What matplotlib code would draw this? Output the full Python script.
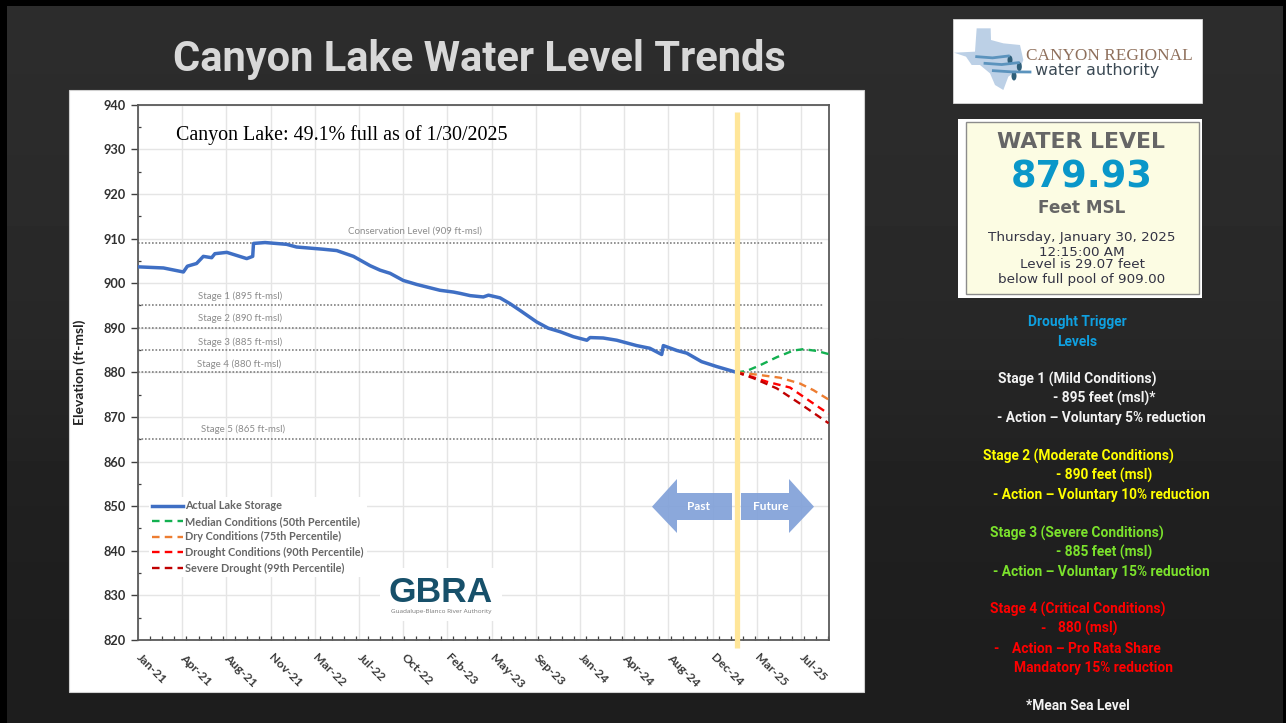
import numpy as np
import matplotlib
matplotlib.use("Agg")
import matplotlib.pyplot as plt
from matplotlib.patches import Rectangle, Polygon, Ellipse
from matplotlib import font_manager as fm

# ---------- data (x = days since 1 Jan 2021, y = ft-msl) ----------
tick_labels = ["Jan-21","Apr-21","Aug-21","Nov-21","Mar-22","Jul-22","Oct-22","Feb-23",
               "May-23","Sep-23","Jan-24","Apr-24","Aug-24","Dec-24","Mar-25","Jul-25"]
actual_day = [1,64,114,124,147,164,185,193,223,273,288,290,319,373,398,465,499,541,583,608,633,666,700,758,792,
              809,834,867,880,909,934,959,1001,1030,1060,1093,1127,1135,1168,1202,1252,1285,1315,1319,1353,1378,1415,1453,1499]
actual_level = [903.65,903.4,902.5,903.8,904.4,906,905.7,906.6,906.9,905.5,906,908.9,909.1,908.7,908.1,907.6,907.3,906,903.9,902.9,902.2,900.6,899.7,898.4,898,
                897.7,897.2,896.9,897.3,896.7,895.4,893.9,891.3,889.9,889.1,888,887.2,887.8,887.7,887.2,886,885.4,884,886,884.9,884.3,882.4,881.3,880.1]
median_day = [1503,1528,1562,1604,1646,1671,1704,1734]
median_level = [880,880.3,881.6,883.4,884.9,885.2,884.8,884.1]
dry_day = [1503,1553,1612,1662,1696,1734]
dry_level = [880,879.5,878.8,877.5,876,873.9]
drought_day = [1503,1528,1579,1637,1696,1734]
drought_level = [880,879.4,877.9,876.6,873,870.7]
severe_day = [1503,1545,1604,1662,1734]
severe_level = [880,878.7,876.4,873,868.6]
stage_levels = [909,895,890,885,880,865]
stage_labels = ["Conservation Level (909 ft-msl)","Stage 1 (895 ft-msl)","Stage 2 (890 ft-msl)",
                "Stage 3 (885 ft-msl)","Stage 4 (880 ft-msl)","Stage 5 (865 ft-msl)"]
legend_labels = ["Actual Lake Storage","Median Conditions (50th Percentile)","Dry Conditions (75th Percentile)",
                 "Drought Conditions (90th Percentile)","Severe Drought (99th Percentile)"]

W, H = 1286, 723
CAL = ["Lato", "Open Sans"]
fig = plt.figure(figsize=(W/100, H/100), dpi=100)

def pix_axes(z):
    a = fig.add_axes([0,0,1,1], zorder=z)
    a.set_xlim(0,W); a.set_ylim(H,0); a.axis("off"); a.patch.set_alpha(0)
    return a

bg = pix_axes(0)
grad = np.array([[0.172],[0.165],[0.150],[0.125],[0.115]])
bg.imshow(grad, cmap="gray", vmin=0, vmax=1, extent=[0,W,H,0], aspect="auto", interpolation="bilinear")
bg.set_xlim(0,W); bg.set_ylim(H,0)
for r in [(0,0,7,H),(0,0,W,6),(1283,0,3,H)]:
    bg.add_patch(Rectangle(r[:2], r[2], r[3], color="black", lw=0))
bg.add_patch(Rectangle((69,90),795,602,fc="white",ec="#d0d0d0",lw=0.8))
bg.text(479.5,60,"Canyon Lake Water Level Trends",family="Roboto",weight="bold",fontsize=30,
        color="#d8d8d8",ha="center",va="center")

# ---------- chart ----------
L,R,T,B = 138,828.6,104.7,640
ax = fig.add_axes([L/W,1-B/H,(R-L)/W,(B-T)/H],zorder=1)
ax.patch.set_alpha(0)
ax.set_xlim(0,1734); ax.set_ylim(820,940)
ax.set_xticks(np.arange(len(tick_labels))*111)
ax.set_xticklabels(tick_labels,rotation=-45,ha="left",va="center",rotation_mode="anchor",
                   family=CAL,fontsize=8.8,weight="bold",color="#3a3a3a")
ax.set_xticks(np.arange(0,1734,30.4),minor=True)
ax.set_yticks(np.arange(820,941,10))
ax.set_yticks(np.arange(825,940,10),minor=True)
ax.tick_params(axis="x",which="major",length=0,pad=11.5)
ax.tick_params(axis="x",which="minor",direction="in",length=3,width=0.9,color="#404040")
ax.tick_params(axis="y",which="major",direction="out",length=5,width=1,color="#404040",pad=3.5)
ax.tick_params(axis="y",which="minor",direction="in",length=2.5,width=0.9,color="#404040")
for t in ax.get_yticklabels():
    t.set_fontfamily(CAL); t.set_fontsize(9.2); t.set_fontweight("bold"); t.set_color("#303030")
ax.grid(True,which="major",color="#e5e5e5",lw=1.0)
ax.set_axisbelow(True)
for s in ax.spines.values():
    s.set_color("#5a5a5a"); s.set_linewidth(1.3)

for lv in stage_levels:
    ax.plot([0,1721],[lv,lv],color="#808080",lw=1.2,ls=(0,(1,1.1)),zorder=2)
l0, = ax.plot(actual_day,actual_level,color="#3f6fc4",lw=2.5,zorder=4,solid_joinstyle="round")
dash = (0,(3.2,2.2))
l1, = ax.plot(median_day,median_level,color="#12b050",lw=1.7,ls=dash,zorder=4)
l2, = ax.plot(dry_day,dry_level,color="#ed7d31",lw=1.7,ls=dash,zorder=4)
l3, = ax.plot(drought_day,drought_level,color="#ff0000",lw=1.7,ls=dash,zorder=4)
l4, = ax.plot(severe_day,severe_level,color="#c00000",lw=1.7,ls=dash,zorder=4)
ax.plot([1503,1503],[938.4,818.2],color="#ffe699",lw=3.8,solid_capstyle="butt",clip_on=False,zorder=5)

leg = ax.legend([l0,l1,l2,l3,l4],legend_labels,loc="upper left",
                bbox_to_anchor=(0.016,0.267),borderaxespad=0,frameon=True,framealpha=1,facecolor="white",edgecolor="none",
                prop=fm.FontProperties(family="Lato",weight="bold",size=7.8),
                labelcolor="#666666",handlelength=2.86,handletextpad=0.2,labelspacing=0.42,borderpad=0.3,fancybox=False)
leg.set_zorder(3)

# ---------- overlays ----------
fg = pix_axes(2)
fg.text(80,372.5,"Elevation (ft-msl)",rotation=90,family=CAL,weight="bold",fontsize=10,color="#222222",ha="center",va="center")
fg.text(176,135,"Canyon Lake: 49.1% full as of 1/30/2025",family="Liberation Serif",fontsize=14.4,color="black",ha="left",va="center")
label_pos = [(415,230.7),(240,296.5),(240,318),(240,342),(239,364.5),(243,429)]
for (x,y),s in zip(label_pos,stage_labels):
    fg.text(x,y,s,family="Lato",fontsize=7.0,color="#8c8c8c",ha="center",va="center")

arrow_c = "#7f9fd8"
fg.add_patch(Polygon([(652,506.7),(677,479),(677,493),(732,493),(732,520),(677,520),(677,533)],fc=arrow_c,ec="none",alpha=0.9))
fg.add_patch(Polygon([(814,506.7),(789,479),(789,493),(741,493),(741,520),(789,520),(789,533)],fc=arrow_c,ec="none",alpha=0.9))
fg.text(698,507,"Past",family=CAL,weight="bold",fontsize=8.6,color="white",ha="center",va="center")
fg.text(770.5,507,"Future",family=CAL,weight="bold",fontsize=8.6,color="white",ha="center",va="center")

# GBRA logo
fg.add_patch(Rectangle((380,568),122,53,fc="white",ec="none"))
fg.text(440.5,593,"GBRA",family="Liberation Sans",weight="bold",fontsize=25.5,color="#17506a",ha="center",va="center")
for yy,amp in [(596,0.6),(599.5,0.5),(602.5,0.4)]:
    xs = np.linspace(388,493,40)
    fg.plot(xs,yy+amp*np.sin(xs/7),color="white",lw=0.9,alpha=0.8)
fg.text(441,612,"Guadalupe-Blanco River Authority",family="Open Sans",fontsize=4.6,color="#777777",ha="center",va="center")

# Canyon Regional logo
fg.add_patch(Rectangle((953,19),249,83.5,fc="white",ec="#d8d8d8",lw=0.6))
def zp(x,y): return (940+x/3,10+y/3)
tex = [(110,55),(152,55),(153,90),(190,100),(240,105),(250,150),(240,175),(205,200),(190,240),(165,225),(150,190),(120,165),(95,165),(78,140),(42,128),(105,125)]
fg.add_patch(Polygon([zp(*p) for p in tex],fc="#bcd0e6",ec="none"))
for (a,b),(c,d),lw in [((110,140),(205,138),2),((135,160),(235,158),2),((160,182),(270,186),2)]:
    xs = [zp(a,b)[0],(zp(a,b)[0]+zp(c,d)[0])/2,zp(c,d)[0]]
    ys = [zp(a,b)[1],zp(a,b)[1]+1.2,zp(c,d)[1]]
    fg.plot(xs,ys,color="#5b93bd",lw=lw)
for (a,b) in [(210,150),(238,170),(222,198)]:
    fg.add_patch(Ellipse(zp(a,b),5,9,fc="#2f5f7a",ec="none"))
fg.text(1109,56,"CANYON REGIONAL",family="Liberation Serif",fontsize=12.4,color="#8f705c",ha="center",va="center")
fg.text(1097.5,71,"water authority",family="DejaVu Sans",fontsize=11.5,color="#3c4a55",ha="center",va="center")

# Water level panel
fg.add_patch(Rectangle((958,119),244,179,fc="white",ec="none"))
fg.add_patch(Rectangle((966,122),233,172,fc="#fcfce3",ec="#8c8c8c",lw=1))
fg.text(1081,142,"WATER LEVEL",family="DejaVu Sans",weight="bold",fontsize=15.8,color="#666666",ha="center",va="center")
fg.text(1082,177,"879.93",family="DejaVu Sans",weight="bold",fontsize=26.5,color="#0a97c9",ha="center",va="center")
fg.text(1082,208,"Feet MSL",family="DejaVu Sans",weight="bold",fontsize=12.2,color="#666666",ha="center",va="center")
for y,s in [(238,"Thursday, January 30, 2025"),(252,"12:15:00 AM"),(265,"Level is 29.07 feet"),(279,"below full pool of 909.00")]:
    fg.text(1082,y,s,family="DejaVu Sans",fontsize=9.7,color="#333344",ha="center",va="center")

# Side text
WHITE,YEL,GRN,RED,BLU = "#f2f2f2","#ffff00","#7be22c","#ff0000","#0fa0e0"
side = [(1028,321,"Drought Trigger",BLU),(1057,341,"Levels",BLU),
        (998,379,"Stage 1 (Mild Conditions)",WHITE),(1053,398,"- 895 feet (msl)*",WHITE),(997,417,"- Action \u2013 Voluntary 5% reduction",WHITE),
        (983,456,"Stage 2 (Moderate Conditions)",YEL),(1056,475,"- 890 feet (msl)",YEL),(993,494,"- Action \u2013 Voluntary 10% reduction",YEL),
        (990,533,"Stage 3 (Severe Conditions)",GRN),(1056,552,"- 885 feet (msl)",GRN),(993,571,"- Action \u2013 Voluntary 15% reduction",GRN),
        (990,609,"Stage 4 (Critical Conditions)",RED),(1040,628,"-",RED),(1058,628,"880 (msl)",RED),
        (993,648,"-",RED),(1012,648,"Action \u2013 Pro Rata Share",RED),(1014,667,"Mandatory 15% reduction",RED),
        (1026,705,"*Mean Sea Level",WHITE)]
for x,y,s,c in side:
    fg.text(x,y+0.8,s,family="Roboto",weight="bold",fontsize=9.95,color=c,ha="left",va="center")

fig.savefig("out.png",dpi=100,facecolor="black")
